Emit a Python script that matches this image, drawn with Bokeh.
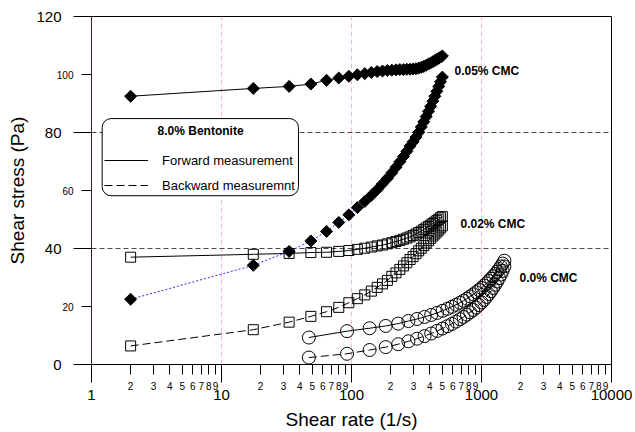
import numpy as np
from bokeh.plotting import figure
from bokeh.models import (FixedTicker, Range1d, Legend, Label, LogAxis, LinearAxis,
                          BasicTickFormatter, BoxAnnotation)
from bokeh.embed import file_html
from bokeh.resources import INLINE

FONT = "Liberation Sans"

# ---------------- data ----------------
rate_cmc = [2.0, 17.56, 33.13, 48.69, 64.25, 79.81, 95.38, 110.9, 126.5, 142.1,
            157.6, 173.2, 188.8, 204.3, 219.9, 235.4, 251.0, 266.6, 282.1, 297.7,
            313.3, 328.8, 344.4, 359.9, 375.5, 391.1, 406.6, 422.2, 437.8, 453.3,
            468.9, 484.4, 500.0]
stress_005_fwd = [92.5, 95.2, 95.9, 96.7, 98.0, 98.8, 99.4, 99.9, 100.3, 100.7,
                  101.0, 101.2, 101.4, 101.5, 101.6, 101.7, 101.7, 101.8, 101.8, 101.9,
                  102.0, 102.2, 102.5, 102.8, 103.2, 103.6, 104.0, 104.4, 104.8, 105.2,
                  105.6, 106.0, 106.4]
stress_005_bwd = [22.5, 34.2, 39.0, 42.6, 45.9, 49.0, 51.6, 54.1, 56.2, 58.3,
                  60.3, 62.3, 64.2, 66.1, 68.0, 69.9, 71.7, 73.5, 75.3, 76.8,
                  78.4, 80.1, 81.9, 83.7, 85.5, 87.3, 89.0, 90.8, 92.5, 94.2,
                  95.9, 97.5, 99.1]
stress_002_fwd = [37.0, 38.0, 38.3, 38.6, 38.7, 39.0, 39.3, 39.7, 40.1, 40.5,
                  40.9, 41.2, 41.6, 42.0, 42.4, 42.8, 43.2, 43.6, 44.0, 44.5,
                  45.0, 45.5, 46.0, 46.6, 47.1, 47.6, 48.1, 48.6, 49.1, 49.6,
                  50.1, 50.6, 51.0]
stress_002_bwd = [6.4, 12.0, 14.6, 16.6, 18.2, 19.7, 21.3, 22.7, 24.0, 25.3,
                  26.6, 27.8, 29.0, 30.4, 31.6, 32.8, 34.0, 35.1, 36.2, 37.2,
                  38.2, 39.2, 40.1, 41.0, 41.9, 42.7, 43.5, 44.3, 45.0, 45.7,
                  46.4, 47.1, 47.8]
rate_000 = [47.0, 92.4, 137.8, 183.2, 228.6, 274.0, 319.4, 364.8, 410.2, 455.6,
            501.0, 546.4, 591.8, 637.2, 682.6, 728.0, 773.4, 818.8, 864.2, 909.6,
            955.0, 1000.4, 1045.8, 1091.2, 1136.6, 1182.0, 1227.4, 1272.8, 1318.2, 1363.6,
            1409.0, 1454.4, 1499.8]
stress_000_fwd = [9.3, 11.5, 12.5, 13.3, 14.1, 15.0, 15.7, 16.4, 17.1, 17.8,
                  18.5, 19.2, 19.9, 20.6, 21.3, 22.0, 22.7, 23.5, 24.2, 24.9,
                  25.7, 26.4, 27.2, 28.0, 28.8, 29.6, 30.4, 31.2, 32.0, 32.9,
                  33.8, 34.8, 35.8]
stress_000_bwd = [2.4, 3.7, 5.0, 6.0, 7.0, 8.0, 8.9, 9.8, 10.7, 11.6,
                  12.4, 13.2, 14.0, 14.8, 15.6, 16.4, 17.2, 18.0, 18.8, 19.6,
                  20.5, 21.4, 22.3, 23.3, 24.3, 25.3, 26.4, 27.5, 28.6, 29.8,
                  31.0, 32.3, 33.8]

x_major_ticks = [1, 10, 100, 1000, 10000]
x_minor_ticks = [2, 3, 4, 5, 6, 7, 8, 9,
                 20, 30, 40, 50, 60, 70, 80, 90,
                 200, 300, 400, 500, 600, 700, 800, 900,
                 2000, 3000, 4000, 5000, 6000, 7000, 8000, 9000]
x_minor_labels = ["2", "3", "4", "5", "6", "7", "8", "9"] * 4
y_major_ticks = [0, 40, 80, 120]
y_minor_ticks = [20, 60, 100]
y_minor_labels = ["20", "60", "100"]
x_grid_lines = [10, 100, 1000]
y_grid_lines = [40, 80]

series_names = ["0.05% CMC", "0.02% CMC", "0.0% CMC"]
series_name_x = [620, 689, 1960]
series_name_y = [101.3, 48.4, 29.9]

legend_title = "8.0% Bentonite"
legend_title_pos = (6.9, 80.6)
legend_box = dict(left=1.208, right=39.1, bottom=58.2, top=84.8)
legend_labels = ["Forward measurement", "Backward measuremnt"]
x_title = "Shear rate (1/s)"
y_title = "Shear stress (Pa)"

# ---------------- figure ----------------
p = figure(width=635, height=432, x_axis_type="log",
           x_range=Range1d(1, 10000), y_range=Range1d(0, 120),
           output_backend="svg", toolbar_location=None,
           min_border_left=91, min_border_right=24, min_border_top=16,
           min_border_bottom=68)
p.background_fill_color = "white"
p.border_fill_color = "white"
p.outline_line_color = "black"
p.outline_line_width = 1

# ---- x axis: inner axis carries ticks and the small in-decade labels
xa = p.xaxis[0]
xa.ticker = FixedTicker(ticks=x_minor_ticks, minor_ticks=x_major_ticks)
xa.formatter = BasicTickFormatter(use_scientific=False)
xa.major_label_overrides = {t: s for t, s in zip(x_minor_ticks, x_minor_labels)}
xa.major_tick_out = 10
xa.major_tick_in = 0
xa.minor_tick_out = 18
xa.minor_tick_in = 0
xa.major_label_text_font = FONT
xa.major_label_text_font_size = "10px"
xa.major_label_text_color = "black"
xa.major_label_standoff = -1
xa.axis_line_color = "black"
xa.major_tick_line_color = "black"
xa.minor_tick_line_color = "black"

# ---- x axis: outer axis carries the decade labels and the title
xb = LogAxis(ticker=FixedTicker(ticks=x_major_ticks, minor_ticks=[]),
             formatter=BasicTickFormatter(use_scientific=False))
xb.axis_line_color = None
xb.major_tick_line_color = None
xb.minor_tick_line_color = None
xb.major_tick_out = 0
xb.major_tick_in = 0
xb.major_label_text_font = FONT
xb.major_label_text_font_size = "15px"
xb.major_label_text_color = "black"
xb.major_label_standoff = -3
xb.axis_label = x_title
xb.axis_label_text_font = FONT
xb.axis_label_text_font_size = "19px"
xb.axis_label_text_font_style = "normal"
xb.axis_label_text_color = "black"
xb.axis_label_standoff = 6
p.add_layout(xb, "below")

# ---- y axis: inner axis with ticks and small labels
ya = p.yaxis[0]
ya.ticker = FixedTicker(ticks=y_minor_ticks, minor_ticks=y_major_ticks)
ya.major_label_overrides = {t: s for t, s in zip(y_minor_ticks, y_minor_labels)}
ya.major_tick_out = 10
ya.major_tick_in = 0
ya.minor_tick_out = 18
ya.minor_tick_in = 0
ya.major_label_text_font = FONT
ya.major_label_text_font_size = "10px"
ya.major_label_text_color = "black"
ya.major_label_standoff = 0
ya.axis_line_color = "#3d2020"
ya.major_tick_line_color = "black"
ya.minor_tick_line_color = "black"

# ---- y axis: outer axis with the large labels and the title
yb = LinearAxis(ticker=FixedTicker(ticks=y_major_ticks, minor_ticks=[]))
yb.axis_line_color = None
yb.major_tick_line_color = None
yb.minor_tick_line_color = None
yb.major_tick_out = 0
yb.major_tick_in = 0
yb.major_label_text_font = FONT
yb.major_label_text_font_size = "15px"
yb.major_label_text_color = "black"
yb.major_label_standoff = -8
yb.axis_label = y_title
yb.axis_label_text_font = FONT
yb.axis_label_text_font_size = "19px"
yb.axis_label_text_font_style = "normal"
yb.axis_label_text_color = "black"
yb.axis_label_standoff = 5
p.add_layout(yb, "left")

# grids
p.xgrid[0].ticker = FixedTicker(ticks=x_grid_lines)
p.xgrid[0].grid_line_color = "#ffb3cc"
p.xgrid[0].grid_line_dash = "5 3"
p.xgrid[0].grid_line_width = 1
p.ygrid[0].ticker = FixedTicker(ticks=y_grid_lines)
p.ygrid[0].grid_line_color = "#4a4a4a"
p.ygrid[0].grid_line_dash = "5 3"
p.ygrid[0].grid_line_width = 1.2

# legend frame (rounded white box, drawn over the grid lines)
box = BoxAnnotation(left=legend_box["left"], right=legend_box["right"],
                    bottom=legend_box["bottom"], top=legend_box["top"],
                    fill_color="white", fill_alpha=1.0, line_color="black",
                    line_alpha=1.0, line_width=1)
if "border_radius" in BoxAnnotation.properties():
    box.border_radius = 9
p.add_layout(box)

# ---------------- series ----------------
DASH = "8 4"
l_f00 = p.line(rate_000, stress_000_fwd, line_color="black", line_width=1)
l_b00 = p.line(rate_000, stress_000_bwd, line_color="black", line_width=1, line_dash=DASH)
p.scatter(rate_000, stress_000_fwd, marker="circle", size=13, fill_color=None,
          line_color="black", line_width=1)
p.scatter(rate_000, stress_000_bwd, marker="circle", size=13, fill_color=None,
          line_color="black", line_width=1)

p.line(rate_cmc, stress_002_fwd, line_color="black", line_width=1)
p.line(rate_cmc, stress_002_bwd, line_color="black", line_width=1, line_dash=DASH)
p.scatter(rate_cmc, stress_002_fwd, marker="square", size=10, fill_color=None,
          line_color="black", line_width=1)
p.scatter(rate_cmc, stress_002_bwd, marker="square", size=10, fill_color=None,
          line_color="black", line_width=1)

p.line(rate_cmc, stress_005_fwd, line_color="black", line_width=1)
p.line(rate_cmc, stress_005_bwd, line_color="#2a2aff", line_width=1, line_dash="2 2")
p.scatter(rate_cmc, stress_005_fwd, marker="square", angle=np.pi / 4, size=8.5,
          fill_color="black", line_color="black")
p.scatter(rate_cmc, stress_005_bwd, marker="square", angle=np.pi / 4, size=8.5,
          fill_color="black", line_color="black")

for name, nx, ny in zip(series_names, series_name_x, series_name_y):
    p.add_layout(Label(x=nx, y=ny, text=name, text_align="left", text_baseline="middle",
                       text_font=FONT, text_font_size="12px",
                       text_font_style="bold", text_color="black"))

# ---------------- legend ----------------
legend = Legend(items=[(legend_labels[0], [l_f00]), (legend_labels[1], [l_b00])],
                location=(13, 171), title=" ")
legend.title_text_font_size = "13px"
legend.title_standoff = 12
legend.label_text_font = FONT
legend.label_text_font_size = "13px"
legend.label_text_color = "black"
legend.glyph_width = 44
legend.glyph_height = 16
legend.label_height = 16
legend.label_standoff = 14
legend.spacing = 9
legend.padding = 3
legend.margin = 0
legend.border_line_color = None
legend.background_fill_alpha = 0.0
p.add_layout(legend)

p.add_layout(Label(x=legend_title_pos[0], y=legend_title_pos[1], text=legend_title,
                   text_align="center", text_baseline="middle", text_font=FONT,
                   text_font_size="12px", text_font_style="bold", text_color="black"))

open("out.html", "w").write(file_html(p, INLINE))
